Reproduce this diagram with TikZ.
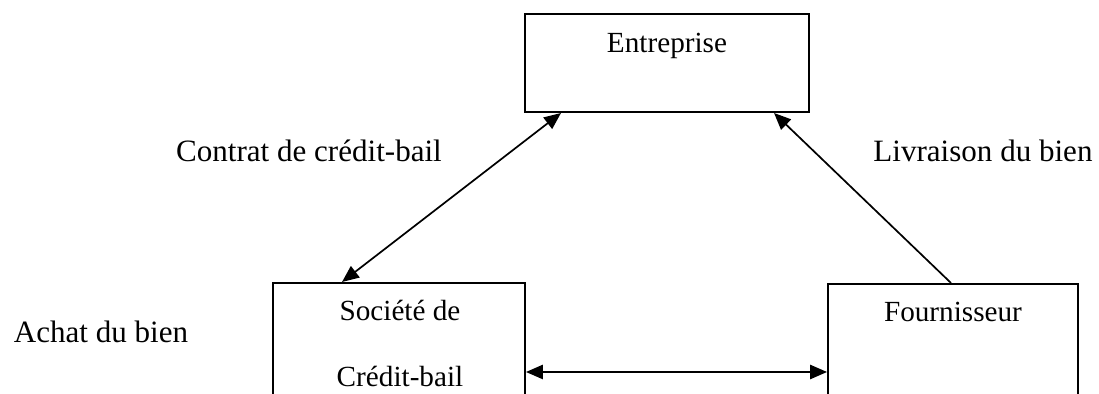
\documentclass[tikz,border=0pt]{standalone}
\usepackage{fontspec}
\setmainfont{Liberation Serif}
\usetikzlibrary{arrows.meta,fit,calc}
\tikzset{
  box/.style={draw, line width=0.75pt, inner sep=0pt, rectangle},
  boxtext/.style={anchor=base, inner sep=0pt, font=\fontsize{11.1pt}{13pt}\selectfont},
  lbl/.style={anchor=base, inner sep=0pt, font=\fontsize{11.8pt}{14pt}\selectfont},
  link/.style={line width=0.65pt, {Triangle[length=6.4pt,width=5.4pt]}-{Triangle[length=6.4pt,width=5.4pt]}},
  onearrow/.style={line width=0.65pt, -{Triangle[length=6.4pt,width=5.4pt]}}
}
\begin{document}
\begin{tikzpicture}[x=0.38pt,y=-0.38pt]
\useasboundingbox (0,0) rectangle (1099,394);
\clip (0,0) rectangle (1099,394);
% boxes
\node[box, fit={(525,14) (809,112)}] (ent) {};
\node[box, fit={(273,283) (525,430)}] (soc) {};
\node[box, fit={(828,284) (1078,430)}] (four) {};
% box texts
\node[boxtext] (tEnt) at (667,53) {Entreprise};
\node[boxtext] (tSoc1) at (400,321) {Société de};
\node[boxtext] (tSoc2) at (400,387) {Crédit-bail};
\node[boxtext] (tFour) at (953,322) {Fournisseur};
% labels
\node[lbl] (lContrat) at (309,162) {Contrat de crédit-bail};
\node[lbl] (lLivr) at (983,162) {Livraison du bien};
\node[lbl] (lAchat) at (101,343) {Achat du bien};
% connector end points on box edges
\coordinate (eL) at ($(ent.south west)+(37,0)$);
\coordinate (eR) at ($(ent.south west)+(250,0)$);
\coordinate (sTop) at ($(soc.north west)+(70,0)$);
\coordinate (fTop) at ($(four.north west)+(124,0)$);
\coordinate (sRight) at (soc.east |- 0,372);
\coordinate (fLeft) at (four.west |- 0,372);
% connectors
\draw[link] (eL) -- (sTop);
\draw[onearrow] (fTop) -- (eR);
\draw[link] (sRight) -- (fLeft);
\end{tikzpicture}
\end{document}
